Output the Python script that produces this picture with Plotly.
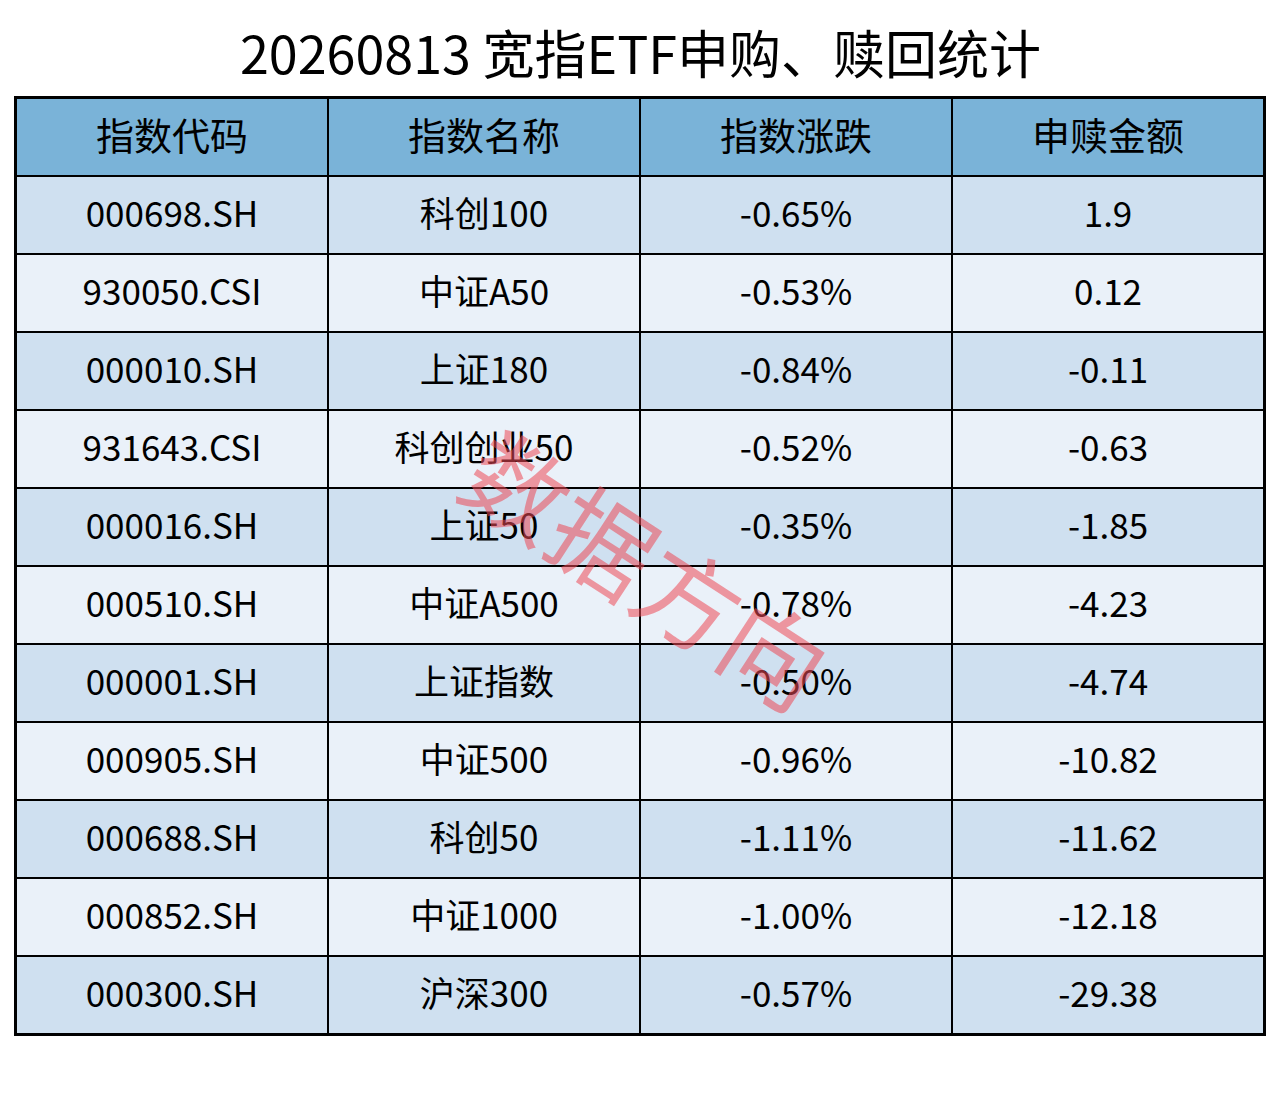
import plotly.graph_objects as go

# data
headers = ['指数代码', '指数名称', '指数涨跌', '申赎金额']
codes = ['000698.SH', '930050.CSI', '000010.SH', '931643.CSI', '000016.SH', '000510.SH',
         '000001.SH', '000905.SH', '000688.SH', '000852.SH', '000300.SH']
names = ['科创100', '中证A50', '上证180', '科创创业50', '上证50', '中证A500',
         '上证指数', '中证500', '科创50', '中证1000', '沪深300']
changes = ['-0.65%', '-0.53%', '-0.84%', '-0.52%', '-0.35%', '-0.78%',
           '-0.50%', '-0.96%', '-1.11%', '-1.00%', '-0.57%']
amounts = ['1.9', '0.12', '-0.11', '-0.63', '-1.85', '-4.23',
           '-4.74', '-10.82', '-11.62', '-12.18', '-29.38']

title = '20260813 宽指ETF申购、赎回统计'
font = 'Noto Sans CJK SC'

n = len(codes)
cols = [0, 1, 2, 3]
rows = list(range(1, n + 1))
body_text = [[codes[i], names[i], changes[i], amounts[i]] for i in range(n)]
body_z = [[1 + (i % 2)] * 4 for i in range(n)]

fig = go.Figure()

# header row
fig.add_trace(go.Heatmap(
    x=cols, y=[0], z=[[0, 0, 0, 0]], text=[headers],
    texttemplate='%{text}', textfont=dict(family=font, size=38, color='black'),
    colorscale=[[0, '#7ab3d8'], [1, '#7ab3d8']], zmin=0, zmax=2,
    showscale=False, xgap=2, ygap=2, hoverinfo='skip'))

# body rows, alternating shades
fig.add_trace(go.Heatmap(
    x=cols, y=rows, z=body_z, text=body_text,
    texttemplate='%{text}', textfont=dict(family=font, size=35, color='black'),
    colorscale=[[0, '#cfe0f0'], [0.5, '#cfe0f0'], [0.5, '#eaf1f9'], [1, '#eaf1f9']],
    zmin=1, zmax=2,
    showscale=False, xgap=2, ygap=2, hoverinfo='skip'))

fig.update_xaxes(range=[-0.5, 3.5], showticklabels=False, showgrid=False, zeroline=False,
                 showline=True, linewidth=2, linecolor='black', mirror=True)
fig.update_yaxes(range=[n + 0.5, -0.5], showticklabels=False, showgrid=False, zeroline=False,
                 showline=True, linewidth=2, linecolor='black', mirror=True)

# watermark
fig.add_annotation(text='数据方向', x=0.507, y=0.50, xref='paper', yref='paper',
                   showarrow=False, textangle=33,
                   font=dict(family=font, size=102, color='rgba(236,72,86,0.55)'))

# title
fig.add_annotation(text=title, x=0.5, y=1.0, xref='paper', yref='paper',
                   xanchor='center', yanchor='bottom', yshift=7, showarrow=False,
                   font=dict(family=font, size=52, color='black'))

fig.update_layout(
    width=1264, height=1089,
    margin=dict(l=8, r=6, t=90, b=63),
    paper_bgcolor='white', plot_bgcolor='black',
)

fig.write_html('out.html')
